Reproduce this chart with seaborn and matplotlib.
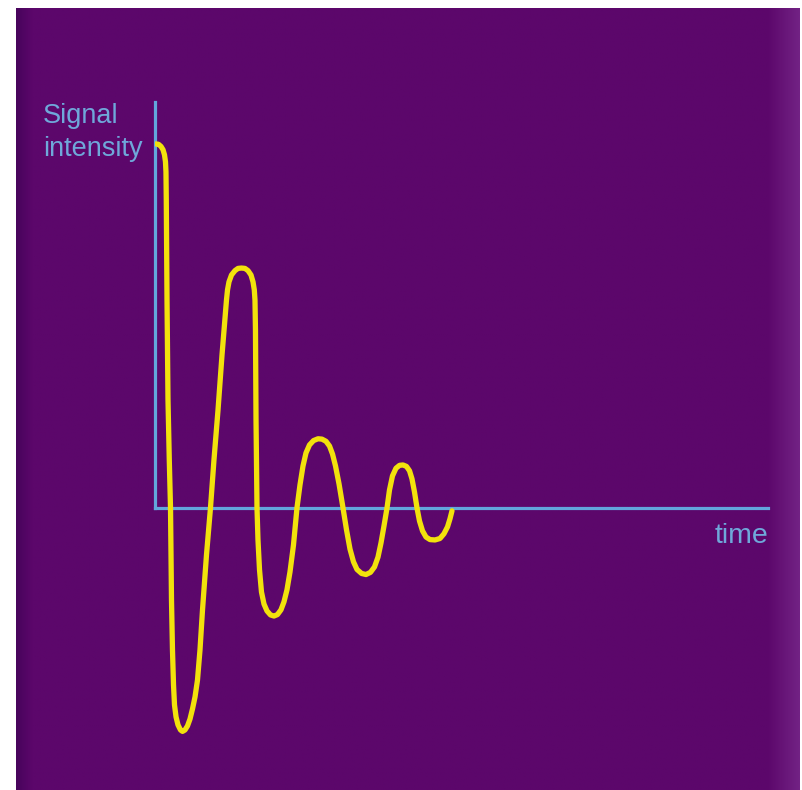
import numpy as np
import seaborn as sns
import matplotlib.pyplot as plt

# curve (time, signal intensity)
time = [0.016, 0.057, 0.098, 0.131, 0.155, 0.171, 0.179, 0.184, 0.196, 0.212, 0.233, 0.253,
        0.269, 0.285, 0.302, 0.318, 0.343, 0.375, 0.416, 0.449, 0.489, 0.530, 0.571, 0.612,
        0.653, 0.693, 0.734, 0.775, 0.840, 0.905,
        0.962, 1.028, 1.093, 1.166, 1.183, 1.207, 1.248, 1.305, 1.354, 1.411, 1.468, 1.517,
        1.566, 1.599, 1.620, 1.631, 1.639, 1.648, 1.664,
        1.680, 1.705, 1.737, 1.778, 1.827, 1.884, 1.941, 1.998, 2.055, 2.104, 2.153, 2.202,
        2.259, 2.316,
        2.365, 2.414, 2.463, 2.520, 2.586, 2.659, 2.724, 2.790, 2.847, 2.896, 2.945, 3.002,
        3.067,
        3.124, 3.181, 3.238, 3.295, 3.369, 3.442, 3.515, 3.581, 3.638, 3.687, 3.736, 3.785,
        3.825, 3.874, 3.931, 3.989, 4.046, 4.103, 4.152, 4.192, 4.233, 4.274,
        4.315, 4.364, 4.421, 4.486, 4.568, 4.649, 4.714, 4.772, 4.812, 4.845]
intensity = [1.000, 0.999, 0.993, 0.984, 0.970, 0.951, 0.923, 0.846, 0.571, 0.297, 0.132, 0.000,
             -0.253, -0.390, -0.486, -0.541, -0.574, -0.596, -0.610, -0.614, -0.610, -0.599, -0.580, -0.552,
             -0.519, -0.473, -0.390, -0.280, -0.129, 0.000,
             0.132, 0.269, 0.420, 0.571, 0.599, 0.621, 0.640, 0.652, 0.658, 0.659, 0.658, 0.652,
             0.640, 0.621, 0.599, 0.571, 0.489, 0.242, 0.000,
             -0.088, -0.170, -0.231, -0.264, -0.283, -0.294, -0.297, -0.293, -0.280, -0.258, -0.225, -0.176,
             -0.102, 0.000,
             0.063, 0.115, 0.151, 0.173, 0.185, 0.190, 0.189, 0.183, 0.170, 0.148, 0.115, 0.066,
             0.000,
             -0.060, -0.113, -0.148, -0.169, -0.180, -0.183, -0.177, -0.162, -0.135, -0.096, -0.049, 0.000,
             0.049, 0.088, 0.109, 0.117, 0.118, 0.114, 0.102, 0.080, 0.044, 0.000,
             -0.036, -0.063, -0.080, -0.087, -0.088, -0.084, -0.071, -0.052, -0.030, -0.008]

y_label = ["Signal", "intensity"]
x_label = "time"

blue = "#62a6dc"
text_blue = "#6fa8da"
yellow = "#f2e20c"

sns.set_style("white")
plt.rcParams['font.family'] = ['Liberation Sans', 'DejaVu Sans']

fig = plt.figure(figsize=(8.02, 7.90), dpi=100, facecolor="white")

# purple backdrop, a little darker at the left edge and lighter at the right edge
bg = fig.add_axes([16 / 802, 0, 784 / 802, 782 / 790])
gx = np.linspace(0, 1, 400)
gy = np.linspace(0, 1, 200)
GX, GY = np.meshgrid(gx, gy)
base = np.array([0x5c, 0x07, 0x6b]) / 255
light = np.array([0x72, 0x22, 0x84]) / 255
dark = np.array([0x48, 0x04, 0x5c]) / 255
w_light = np.clip((GX - 0.96) / 0.04, 0, 1)[:, :, None]
w_dark = np.clip((0.02 - GX) / 0.02, 0, 1)[:, :, None]
img = base * (1 - w_light - w_dark) + light * w_light + dark * w_dark
bg.imshow(np.clip(img, 0, 1), aspect="auto", extent=[0, 1, 0, 1], origin="upper")
bg.set_axis_off()

ax = fig.add_axes([155 / 802, 20 / 790, 613 / 802, 668.3 / 790])
ax.patch.set_alpha(0)
sns.lineplot(x=time, y=intensity, ax=ax, sort=False, estimator=None,
             color=yellow, linewidth=3.8, solid_capstyle="round", solid_joinstyle="round")
ax.set_xlim(0, 10)
ax.set_ylim(-0.720, 1.116)

for s in ["top", "right"]:
    ax.spines[s].set_visible(False)
ax.spines["bottom"].set_position(("data", 0))
ax.spines["left"].set_bounds(0, 1.116)
ax.spines["bottom"].set_bounds(0, 10)
for s in ["left", "bottom"]:
    ax.spines[s].set_color(blue)
    ax.spines[s].set_linewidth(2.3)
    ax.spines[s].set_zorder(1)
ax.set_xticks([])
ax.set_yticks([])
ax.set_xlabel("")
ax.set_ylabel("")

fig.text(43 / 802, 1 - 123 / 790, y_label[0], color=text_blue, fontsize=19.5,
         ha="left", va="baseline")
fig.text(43 / 802, 1 - 156 / 790, y_label[1], color=text_blue, fontsize=19.5,
         ha="left", va="baseline")
fig.text(768 / 802, 1 - 543 / 790, x_label, color=text_blue, fontsize=20.5,
         ha="right", va="baseline")

fig.savefig("out.png", dpi=100, facecolor="white")
